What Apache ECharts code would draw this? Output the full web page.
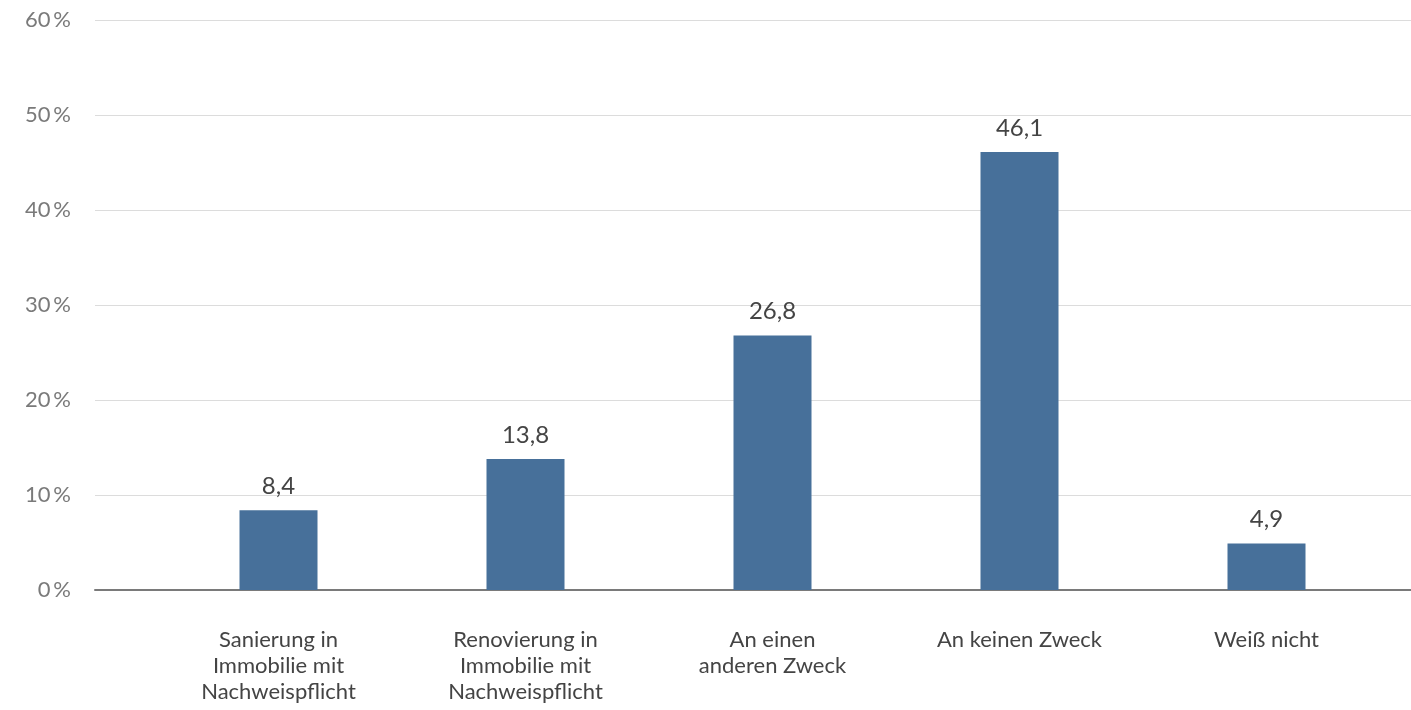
<!DOCTYPE html>
<html>
<head>
<meta charset="utf-8">
<script src="https://cdn.jsdelivr.net/npm/echarts@6/dist/echarts.min.js"></script>
<style>html,body{margin:0;padding:0;background:#fff;}#c{width:1411px;height:710px;}</style>
</head>
<body>
<div id="c"></div>
<script>
const categories = ["Sanierung in\nImmobilie mit\nNachweispflicht", "Renovierung in\nImmobilie mit\nNachweispflicht", "An einen\nanderen Zweck", "An keinen Zweck", "Weiß nicht"];
const values = [8.4, 13.8, 26.8, 46.1, 4.9];
const yTicks = { min: 0, max: 60, interval: 10 };

const chart = echarts.init(document.getElementById('c'), null, { renderer: 'canvas' });
const font = 'Lato, "Open Sans", sans-serif';
chart.setOption({
  animation: false,
  backgroundColor: '#ffffff',
  grid: [
    { left: 95, right: 0, top: 20, bottom: 120, containLabel: false },
    { left: 155, right: 21, top: 20, bottom: 120, containLabel: false }
  ],
  xAxis: [
    { gridIndex: 0, type: 'category', data: [''], axisLine: { show: true, lineStyle: { color: '#7a7a7a', width: 2 } }, axisTick: { show: false }, axisLabel: { show: false }, splitLine: { show: false } },
    { gridIndex: 1, type: 'category', data: categories, axisLine: { show: false }, axisTick: { show: false },
      axisLabel: { color: '#444', fontSize: 22, fontFamily: font, lineHeight: 26, margin: 37, interval: 0, align: 'center' } }
  ],
  yAxis: [
    { gridIndex: 0, type: 'value', min: yTicks.min, max: yTicks.max, interval: yTicks.interval,
      axisLine: { show: false }, axisTick: { show: false },
      axisLabel: { color: '#7a7a7a', fontSize: 22, fontFamily: font, margin: 24, formatter: v => v + '\u2009%' },
      splitLine: { show: true, lineStyle: { color: '#dcdcdc', width: 1 } } },
    { gridIndex: 1, type: 'value', min: yTicks.min, max: yTicks.max, interval: yTicks.interval, show: false, splitLine: { show: false } }
  ],
  series: [{
    type: 'bar', xAxisIndex: 1, yAxisIndex: 1, data: values, barWidth: 78,
    itemStyle: { color: '#47709a' },
    label: { show: true, position: 'top', distance: 12, color: '#444', fontSize: 24, fontFamily: font,
      formatter: p => String(p.value).replace('.', ',') }
  }]
});
</script>
</body>
</html>
